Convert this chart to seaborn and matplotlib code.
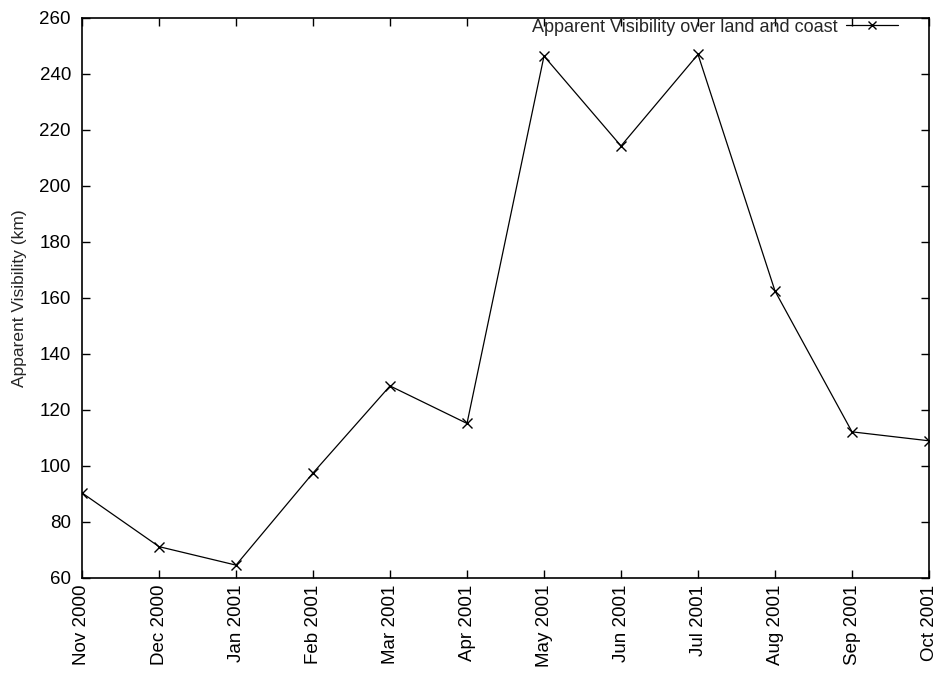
import matplotlib
matplotlib.use("Agg")
import matplotlib.pyplot as plt
import seaborn as sns
import pandas as pd

months = ["Nov 2000", "Dec 2000", "Jan 2001", "Feb 2001", "Mar 2001", "Apr 2001",
          "May 2001", "Jun 2001", "Jul 2001", "Aug 2001", "Sep 2001", "Oct 2001"]
visibility = [90.4, 71.2, 64.6, 97.5, 128.6, 115.2, 246.4, 214.3, 247.0, 162.5, 112.2, 109.0]
series_label = "Apparent Visibility over land and coast"

sns.set_style("ticks")
plt.rcParams['font.family'] = ['Liberation Sans', 'DejaVu Sans']

df = pd.DataFrame({"idx": range(len(months)), "vis": visibility})

fig = plt.figure(figsize=(9.38, 6.73), dpi=100)
ax = fig.add_axes([82/938, 1 - 578/673, (929-82)/938, (578-18)/673])

sns.lineplot(data=df, x="idx", y="vis", ax=ax, color="black", linewidth=0.9,
             marker="x", markersize=7, markeredgewidth=1.0,
             markeredgecolor="black", markerfacecolor="black", label=series_label)

ax.set_xlim(0, len(months) - 1)
ax.set_ylim(60, 260)
ax.set_yticks(range(60, 261, 20))
ax.set_xticks(range(len(months)))
ax.set_xticklabels(months, rotation=90)
ax.set_xlabel("")
ax.set_ylabel("Apparent Visibility (km)", fontsize=12.5)
ax.yaxis.set_label_coords((27 - 82) / 847, 0.5)
ax.tick_params(direction="in", length=6, width=1, top=True, right=True, labelsize=13.5,
               colors="black")
ax.tick_params(axis="y", pad=8)
ax.tick_params(axis="x", pad=5)
for s in ax.spines.values():
    s.set_linewidth(1.2)
    s.set_color("black")

leg = ax.legend(loc="upper right", bbox_to_anchor=((898 - 82) / 847, 0.9986),
                frameon=False, fontsize=13, markerfirst=False, markerscale=0.8,
                handlelength=2.9, borderaxespad=0, borderpad=0, handletextpad=0.45)

fig.savefig("out.png", dpi=100)
